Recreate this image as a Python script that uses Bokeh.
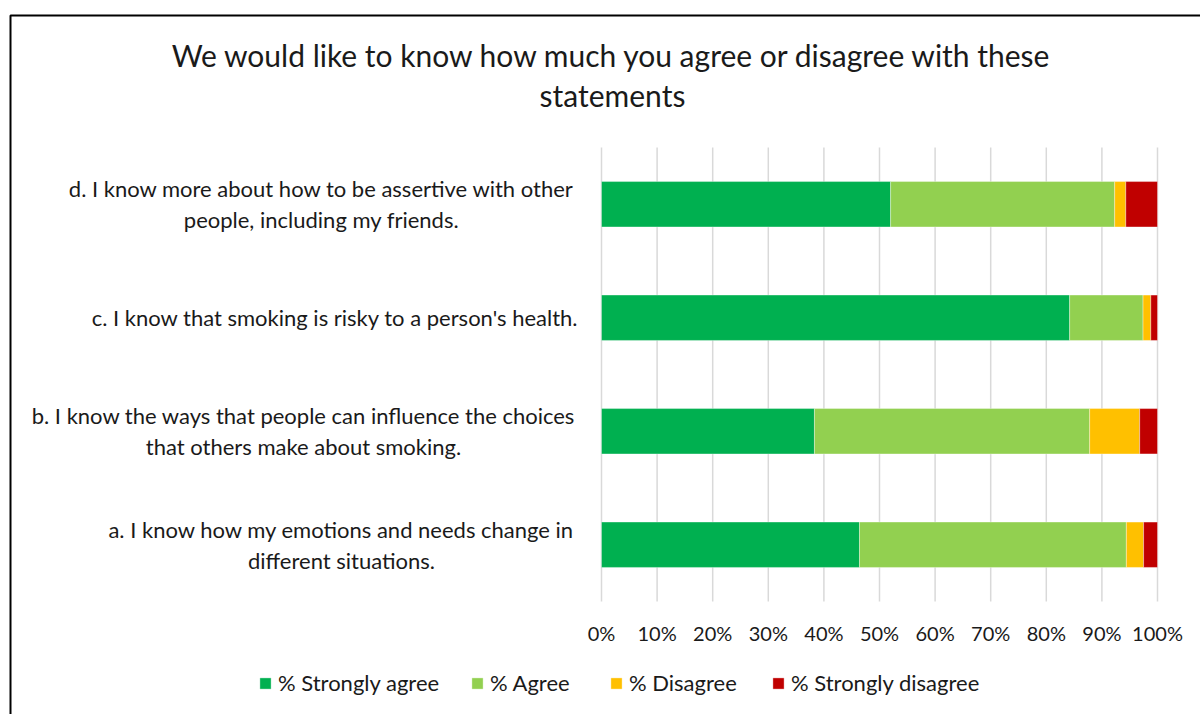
from bokeh.plotting import figure
from bokeh.models import Range1d, Label, Legend, LegendItem, BoxAnnotation, ColumnDataSource
from bokeh.embed import file_html
from bokeh.resources import INLINE

# ---------------- data ----------------
title_lines = ["We would like to know how much you agree or disagree with these",
               "statements"]
keys = ["a", "b", "c", "d"]
statements = [
    ["a. I know how my emotions and needs change in", "different situations."],
    ["b. I know the ways that people can influence the choices", "that others make about smoking."],
    ["c. I know that smoking is risky to a person's health."],
    ["d. I know more about how to be assertive with other", "people, including my friends."],
]
series = ["% Strongly agree", "% Agree", "% Disagree", "% Strongly disagree"]
strongly_agree = [46.4, 38.3, 84.2, 52.0]
agree = [48.0, 49.5, 13.2, 40.3]
disagree = [3.1, 9.0, 1.4, 2.0]
strongly_disagree = [2.5, 3.2, 1.2, 5.7]
colors = ["#00B050", "#92D050", "#FFC000", "#C00000"]
tick_values = [0, 10, 20, 30, 40, 50, 60, 70, 80, 90, 100]
tick_labels = ["0%", "10%", "20%", "30%", "40%", "50%", "60%", "70%", "80%", "90%", "100%"]

FONT = "Lato"
TXT = "#1a1a1a"
W, H = 1200, 714
FL, FT, FR, FB = 601, 147, 1157, 601  # plot-area edges on the canvas

ppx = (FR - FL) / 100.0            # pixels per percent
ppy = (FB - FT) / len(keys)        # pixels per category

p = figure(width=W, height=H,
           x_range=Range1d(-FL / ppx, 100 + (W - FR) / ppx),
           y_range=Range1d(-(H - FB) / ppy, len(keys) + FT / ppy),
           output_backend="svg", toolbar_location=None,
           min_border=0, x_axis_type=None, y_axis_type=None)
p.outline_line_color = None
p.xgrid.visible = False
p.ygrid.visible = False
p.background_fill_color = "white"
p.border_fill_color = "white"


def sy(Y):
    return H - Y


y_pos = [i + 0.5 for i in range(len(keys))]
source = ColumnDataSource(dict(key=keys, y=y_pos, **{
    series[0]: strongly_agree, series[1]: agree,
    series[2]: disagree, series[3]: strongly_disagree}))

# vertical gridlines at tick values, spanning the category area
p.segment(x0=tick_values, x1=tick_values, y0=[0] * len(tick_values),
          y1=[len(keys)] * len(tick_values), line_color="#D9D9D9", line_width=1.5)

renderers = p.hbar_stack(series, y="y", height=0.4, color=colors, source=source,
                         line_color="white", line_alpha=0.35, line_width=1)

# tick labels
for t, lab in zip(tick_values, tick_labels):
    p.add_layout(Label(x=t, y=sy(632), x_units="data", y_units="screen", text=lab,
                       text_font=FONT, text_font_size="20px", text_color=TXT,
                       text_align="center", text_baseline="middle"))

# title
for txt, Y in zip(title_lines, [54, 94]):
    p.add_layout(Label(x=612, y=sy(Y), x_units="screen", y_units="screen", text=txt,
                       text_font=FONT, text_font_size="30px", text_color=TXT,
                       text_align="center", text_baseline="middle"))

# category labels
centers_x = [341, 303, 349, 321]
for lines, cx, yc in zip(statements, centers_x, y_pos):
    if len(lines) == 1:
        p.add_layout(Label(x=578, y=yc, x_units="screen", y_units="data",
                           text=lines[0], text_font=FONT, text_font_size="22px",
                           text_color=TXT, text_align="right", text_baseline="middle"))
    else:
        for ln, dy in zip(lines, [15.5, -15.5]):
            p.add_layout(Label(x=cx, y=yc + dy / ppy, x_units="screen", y_units="data",
                               text=ln, text_font=FONT, text_font_size="22px",
                               text_color=TXT, text_align="center", text_baseline="middle"))

# legends (one per item, positioned individually)
legend_x = [258, 470, 609, 771]
for r, name, lx in zip(renderers, series, legend_x):
    lg = Legend(items=[LegendItem(label=name, renderers=[r])],
                location=(lx, sy(672) - 24), orientation="horizontal",
                padding=0, margin=0, spacing=0, border_line_color=None,
                background_fill_alpha=0, glyph_width=14, glyph_height=14,
                label_standoff=6, label_height=20,
                label_text_font=FONT, label_text_font_size="22px",
                label_text_color=TXT)
    p.add_layout(lg, "center")

# outer chart border (only left and top edges visible in the reference)
p.add_layout(BoxAnnotation(left=10, right=W + 20, top=sy(15), bottom=-20,
                           left_units="screen", right_units="screen",
                           top_units="screen", bottom_units="screen",
                           fill_alpha=0, line_color="black", line_alpha=1.0,
                           line_width=2))

open("out.html", "w").write(file_html(p, INLINE))
